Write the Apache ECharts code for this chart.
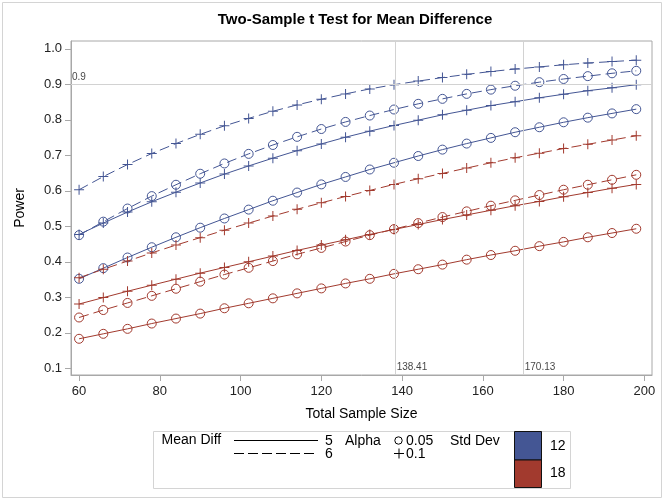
<!DOCTYPE html>
<html><head><meta charset="utf-8">
<script src="https://cdn.jsdelivr.net/npm/echarts@6/dist/echarts.min.js"></script>
<style>html,body{margin:0;padding:0;background:#fff}#c{width:666px;height:500px}</style>
</head><body><div id="c"></div>
<script>
// ---- data ----
const sampleSizes = [60,66,72,78,84,90,96,102,108,114,120,126,132,138,144,150,156,162,168,174,180,186,192,198];
const xTicks = [60,80,100,120,140,160,180,200];
const yTicks = [0.1,0.2,0.3,0.4,0.5,0.6,0.7,0.8,0.9,1.0];
const refPower = 0.9;
const refSizes = [138.41, 170.13];

// Mean Diff 5, Std Dev 12
const pow_d5_sd12_a005 = [0.352,0.382,0.412,0.441,0.469,0.496,0.522,0.547,0.572,0.595,0.618,0.639,0.660,0.679,0.698,0.716,0.733,0.749,0.765,0.779,0.793,0.806,0.818,0.830];
const pow_d5_sd12_a010 = [0.477,0.509,0.540,0.569,0.596,0.622,0.647,0.670,0.692,0.713,0.732,0.751,0.768,0.784,0.799,0.814,0.827,0.840,0.851,0.862,0.872,0.882,0.890,0.899];
// Mean Diff 6, Std Dev 12
const pow_d6_sd12_a005 = [0.475,0.513,0.550,0.585,0.617,0.648,0.677,0.704,0.729,0.752,0.774,0.794,0.812,0.829,0.845,0.859,0.873,0.885,0.896,0.906,0.915,0.923,0.931,0.938];
const pow_d6_sd12_a010 = [0.603,0.640,0.674,0.705,0.733,0.759,0.783,0.804,0.824,0.842,0.858,0.873,0.887,0.899,0.909,0.919,0.928,0.936,0.943,0.949,0.955,0.960,0.964,0.968];
// Mean Diff 5, Std Dev 18
const pow_d5_sd18_a005 = [0.183,0.197,0.211,0.226,0.240,0.254,0.269,0.283,0.297,0.311,0.325,0.339,0.352,0.366,0.379,0.392,0.406,0.419,0.431,0.444,0.456,0.469,0.481,0.493];
const pow_d5_sd18_a010 = [0.281,0.299,0.317,0.334,0.351,0.368,0.384,0.400,0.416,0.432,0.447,0.462,0.477,0.491,0.505,0.519,0.532,0.545,0.558,0.570,0.583,0.595,0.607,0.618];
// Mean Diff 6, Std Dev 18
const pow_d6_sd18_a005 = [0.243,0.264,0.284,0.304,0.324,0.344,0.364,0.383,0.402,0.421,0.439,0.457,0.475,0.492,0.509,0.526,0.542,0.558,0.573,0.588,0.603,0.617,0.631,0.645];
const pow_d6_sd18_a010 = [0.355,0.379,0.402,0.425,0.447,0.468,0.489,0.509,0.529,0.548,0.566,0.584,0.601,0.618,0.634,0.649,0.664,0.679,0.693,0.706,0.719,0.731,0.743,0.755];

// ---- styles ----
const FONT = 'Liberation Sans, Arial, sans-serif';
const BLUE = '#445694', RED = '#A23A2E';
const AXC = '#a8a8a8';
const xMin = 58, xMax = 201.9, yMin = 0.081, yMax = 1.022;
const PLUS = 'path://M4.5,0H5.5V4.5H10V5.5H5.5V10H4.5V5.5H0V4.5H4.5Z';

function mk(name, vals, color, dashed, alphaKind) {
  const circle = alphaKind === 'circle';
  return {
    name, type: 'line', z: 3,
    data: sampleSizes.map((n, i) => [n, vals[i]]),
    showAllSymbol: true,
    symbol: circle ? 'circle' : PLUS,
    symbolSize: circle ? 9 : 10,
    lineStyle: { color, width: 1, type: dashed ? [10, 5] : 'solid' },
    itemStyle: circle ? { color: 'rgba(0,0,0,0)', borderColor: color, borderWidth: 1 }
                      : { color: color, borderWidth: 0 },
    emphasis: { disabled: true }
  };
}

const series = [
  mk('d5 sd12 a0.05', pow_d5_sd12_a005, BLUE, false, 'circle'),
  mk('d5 sd12 a0.1',  pow_d5_sd12_a010, BLUE, false, 'plus'),
  mk('d6 sd12 a0.05', pow_d6_sd12_a005, BLUE, true,  'circle'),
  mk('d6 sd12 a0.1',  pow_d6_sd12_a010, BLUE, true,  'plus'),
  mk('d5 sd18 a0.05', pow_d5_sd18_a005, RED,  false, 'circle'),
  mk('d5 sd18 a0.1',  pow_d5_sd18_a010, RED,  false, 'plus'),
  mk('d6 sd18 a0.05', pow_d6_sd18_a005, RED,  true,  'circle'),
  mk('d6 sd18 a0.1',  pow_d6_sd18_a010, RED,  true,  'plus'),
  {
    name: 'ref', type: 'scatter', z: 1, silent: true,
    symbolSize: 1, itemStyle: { color: 'rgba(0,0,0,0)' },
    data: [[xMin, refPower, String(refPower)]].concat(refSizes.map(s => [s, yMin, s.toFixed(2)])),
    label: { show: true, position: [1.5, -12], align: 'left', fontSize: 10, fontFamily: FONT, color: '#111',
             formatter: p => p.value[2] },
    markLine: {
      silent: true, symbol: ['none', 'none'], label: { show: false },
      lineStyle: { color: '#d2d2d2', type: 'solid', width: 1 },
      data: [{ yAxis: refPower }].concat(refSizes.map(s => ({ xAxis: s })))
    }
  }
];

// ---- legend (drawn) ----
const LX = 153, LY = 431, LW = 417, LH = 57;
function txt(x, y, t, size, extra) {
  return Object.assign({ type: 'text', x, y, silent: true,
    style: { text: t, fontSize: size, fontFamily: FONT, fill: '#000',
             align: 'left', verticalAlign: 'middle', textAlign: 'left', textVerticalAlign: 'middle' } }, extra || {});
}
const graphic = [
  { type: 'rect', silent: true, shape: { x: 2.5, y: 2.5, width: 659, height: 495 },
    style: { fill: 'none', stroke: '#d4d4d4', lineWidth: 1 } },
  { type: 'text', x: 355, y: 20, silent: true,
    style: { text: 'Two-Sample t Test for Mean Difference', fontSize: 15, fontWeight: 'bold', fontFamily: FONT,
             fill: '#000', align: 'center', verticalAlign: 'middle', textAlign: 'center', textVerticalAlign: 'middle' } },
  { type: 'rect', silent: true, shape: { x: LX + 0.5, y: LY + 0.5, width: LW, height: LH },
    style: { fill: '#fff', stroke: '#d4d4d4', lineWidth: 1 } },
  txt(161.5, 440.5, 'Mean Diff', 14),
  { type: 'line', silent: true, shape: { x1: 234, y1: 440.5, x2: 318, y2: 440.5 }, style: { stroke: '#000', lineWidth: 1 } },
  txt(325, 441, '5', 14),
  { type: 'line', silent: true, shape: { x1: 234, y1: 453.5, x2: 318, y2: 453.5 }, style: { stroke: '#000', lineWidth: 1, lineDash: [10, 4] } },
  txt(325, 454, '6', 14),
  txt(345, 441, 'Alpha', 14),
  { type: 'circle', silent: true, shape: { cx: 398.5, cy: 440.5, r: 3.7 }, style: { fill: 'none', stroke: '#000', lineWidth: 1 } },
  txt(406, 441, '0.05', 14),
  { type: 'line', silent: true, shape: { x1: 394, y1: 453.5, x2: 404, y2: 453.5 }, style: { stroke: '#000', lineWidth: 1 } },
  { type: 'line', silent: true, shape: { x1: 399, y1: 448.5, x2: 399, y2: 458.5 }, style: { stroke: '#000', lineWidth: 1 } },
  txt(406, 454, '0.1', 14),
  txt(450, 441, 'Std Dev', 14),
  { type: 'rect', silent: true, shape: { x: 514.5, y: 431.5, width: 27, height: 28.5 }, style: { fill: BLUE, stroke: '#111', lineWidth: 1 } },
  { type: 'rect', silent: true, shape: { x: 514.5, y: 460, width: 27, height: 27.5 }, style: { fill: RED, stroke: '#111', lineWidth: 1 } },
  txt(550, 446, '12', 14),
  txt(550, 473.5, '18', 14)
];

const chart = echarts.init(document.getElementById('c'), null, { renderer: 'canvas' });
chart.setOption({
  animation: false,
  backgroundColor: '#fff',
  textStyle: { fontFamily: FONT },
  grid: { left: 71, top: 41, width: 581, height: 334, show: true, borderColor: AXC, borderWidth: 1,
          containLabel: false, outerBoundsMode: 'none' },
  xAxis: {
    type: 'value', min: xMin, max: xMax,
    name: 'Total Sample Size', nameLocation: 'middle', nameGap: 32,
    nameTextStyle: { fontSize: 14, color: '#000', fontFamily: FONT },
    axisLine: { show: true, lineStyle: { color: AXC } },
    axisTick: { show: true, inside: false, length: 6, lineStyle: { color: AXC }, customValues: xTicks },
    axisLabel: { fontSize: 13, color: '#222', margin: 10, fontFamily: FONT, customValues: xTicks,
                 showMinLabel: true, showMaxLabel: true },
    splitLine: { show: false }
  },
  yAxis: {
    type: 'value', min: yMin, max: yMax,
    name: 'Power', nameLocation: 'middle', nameGap: 44, nameRotate: 90,
    nameTextStyle: { fontSize: 14, color: '#000', fontFamily: FONT },
    axisLine: { show: true, lineStyle: { color: AXC } },
    axisTick: { show: true, inside: false, length: 6, lineStyle: { color: AXC }, customValues: yTicks },
    axisLabel: { fontSize: 13, color: '#222', margin: 9, fontFamily: FONT, customValues: yTicks,
                 formatter: v => v.toFixed(1) },
    splitLine: { show: false }
  },
  series,
  graphic
});
</script>
</body></html>
